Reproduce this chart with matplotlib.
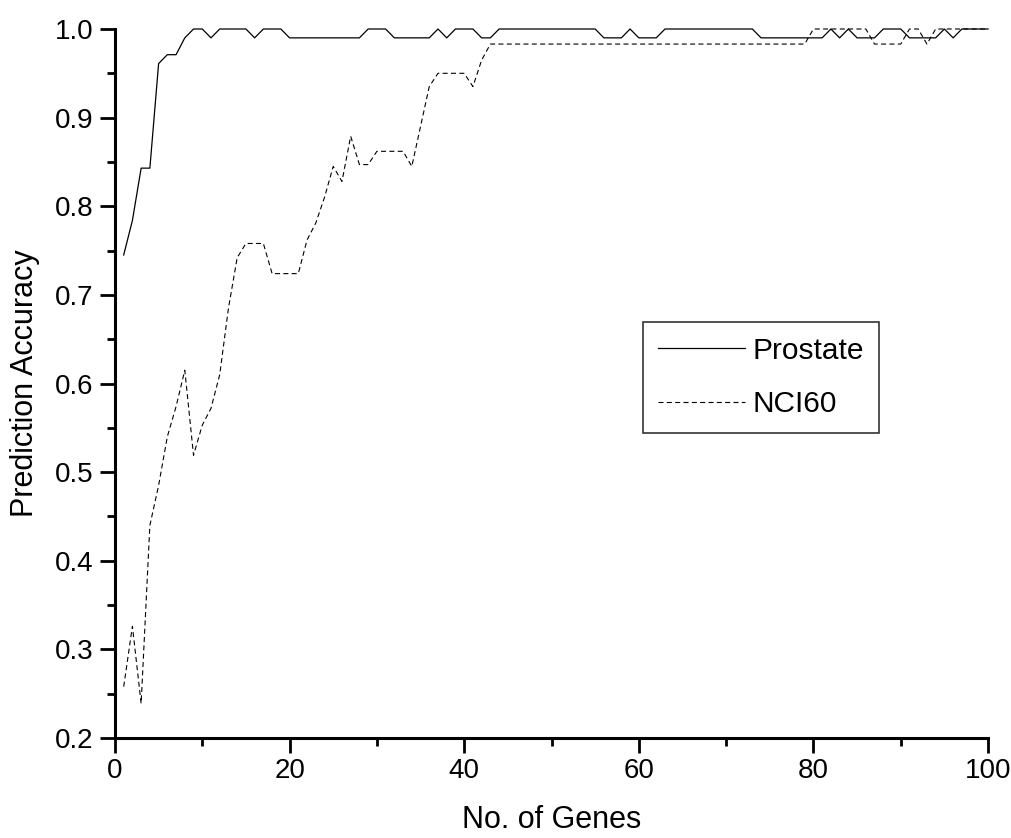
import matplotlib.pyplot as plt
from matplotlib.ticker import MultipleLocator

# number of genes 1..100
genes = list(range(1, 101))

prostate = [0.745, 0.784, 0.843, 0.843, 0.961, 0.971, 0.971, 0.990, 1.0, 1.0,
            0.990, 1.0, 1.0, 1.0, 1.0, 0.990, 1.0, 1.0, 1.0, 0.990,
            0.990, 0.990, 0.990, 0.990, 0.990, 0.990, 0.990, 0.990, 1.0, 1.0,
            1.0, 0.990, 0.990, 0.990, 0.990, 0.990, 1.0, 0.990, 1.0, 1.0,
            1.0, 0.990, 0.990, 1.0, 1.0, 1.0, 1.0, 1.0, 1.0, 1.0,
            1.0, 1.0, 1.0, 1.0, 1.0, 0.990, 0.990, 0.990, 1.0, 0.990,
            0.990, 0.990, 1.0, 1.0, 1.0, 1.0, 1.0, 1.0, 1.0, 1.0,
            1.0, 1.0, 1.0, 0.990, 0.990, 0.990, 0.990, 0.990, 0.990, 0.990,
            0.990, 1.0, 0.990, 1.0, 0.990, 0.990, 0.990, 1.0, 1.0, 1.0,
            0.990, 0.990, 0.990, 0.990, 1.0, 0.990, 1.0, 1.0, 1.0, 1.0]

nci60 = [0.258, 0.326, 0.239, 0.440, 0.485, 0.540, 0.574, 0.615, 0.519, 0.553,
         0.572, 0.610, 0.685, 0.742, 0.758, 0.758, 0.758, 0.724, 0.724, 0.724,
         0.724, 0.762, 0.781, 0.810, 0.845, 0.828, 0.879, 0.847, 0.847, 0.862,
         0.862, 0.862, 0.862, 0.845, 0.890, 0.935, 0.950, 0.950, 0.950, 0.950,
         0.935, 0.965, 0.983, 0.983, 0.983, 0.983, 0.983, 0.983, 0.983, 0.983,
         0.983, 0.983, 0.983, 0.983, 0.983, 0.983, 0.983, 0.983, 0.983, 0.983,
         0.983, 0.983, 0.983, 0.983, 0.983, 0.983, 0.983, 0.983, 0.983, 0.983,
         0.983, 0.983, 0.983, 0.983, 0.983, 0.983, 0.983, 0.983, 0.983, 1.0,
         1.0, 1.0, 1.0, 1.0, 1.0, 1.0, 0.983, 0.983, 0.983, 0.983,
         1.0, 1.0, 0.983, 1.0, 1.0, 1.0, 1.0, 1.0, 1.0, 1.0]

plt.rcParams['font.family'] = ['Liberation Sans', 'DejaVu Sans']

fig = plt.figure(figsize=(10.11, 8.38), dpi=100)
ax = fig.add_axes([0.1137, 0.1193, 0.8636, 0.8461])

ax.plot(genes, prostate, color='black', linewidth=0.9, label='Prostate', clip_on=False)
ax.plot(genes, nci60, color='black', linewidth=0.8, linestyle=(0, (4.5, 3)),
        label='NCI60', clip_on=False)

ax.set_xlim(0, 100)
ax.set_ylim(0.2, 1.0)
ax.xaxis.set_major_locator(MultipleLocator(20))
ax.xaxis.set_minor_locator(MultipleLocator(10))
ax.yaxis.set_major_locator(MultipleLocator(0.1))
ax.yaxis.set_minor_locator(MultipleLocator(0.05))
ax.yaxis.set_major_formatter(plt.FuncFormatter(lambda v, p: f'{v:.1f}'))

for side in ['top', 'right']:
    ax.spines[side].set_visible(False)
for side in ['left', 'bottom']:
    ax.spines[side].set_linewidth(2.2)

ax.tick_params(which='major', direction='out', length=10.5, width=2, labelsize=20)
ax.tick_params(which='minor', direction='out', length=5.5, width=2)
ax.tick_params(axis='x', which='major', pad=4)
ax.tick_params(axis='y', which='major', pad=5)

ax.set_xlabel('No. of Genes', fontsize=22)
ax.set_ylabel('Prediction Accuracy', fontsize=22)
ax.xaxis.set_label_coords(0.5, -0.094)
ax.yaxis.set_label_coords(-0.086, 0.5)

leg = ax.legend(loc='upper left', bbox_to_anchor=(0.605, 0.587), fontsize=21.5,
                frameon=True, fancybox=False, handlelength=2.9, handletextpad=0.25,
                borderpad=0.5, labelspacing=0.85, borderaxespad=0)
leg.get_frame().set_edgecolor('black')
leg.get_frame().set_linewidth(1.2)

plt.savefig('out.png', dpi=100)
